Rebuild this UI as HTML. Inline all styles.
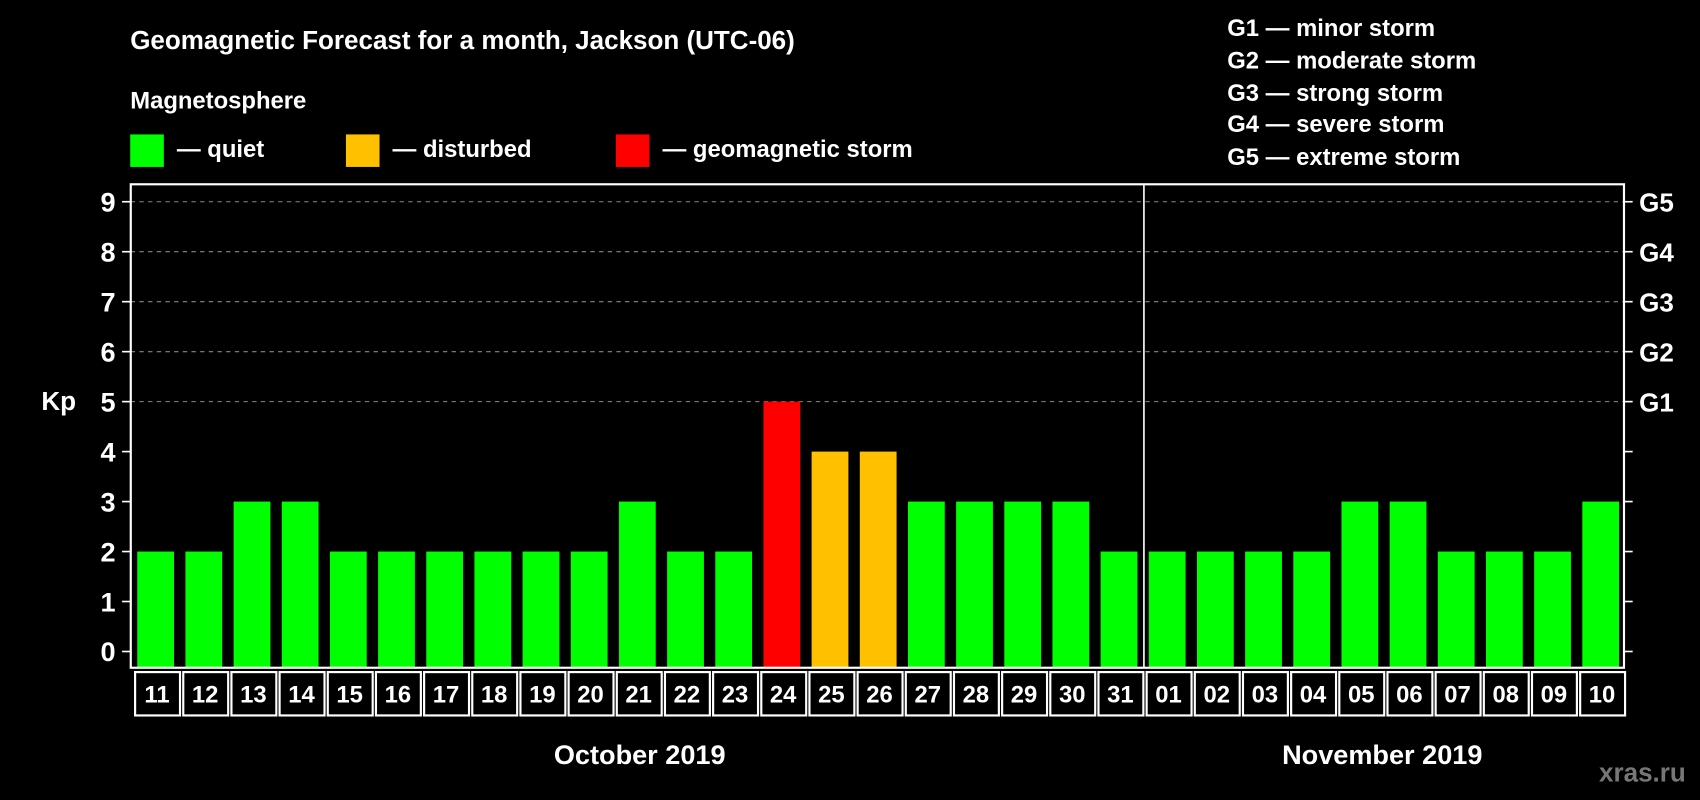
<!DOCTYPE html>
<html><head><meta charset="utf-8"><style>
html,body{margin:0;padding:0;background:#000;width:1700px;height:800px;overflow:hidden}
svg{display:block}
text{font-family:"Liberation Sans",sans-serif;font-weight:bold;fill:#fff}
</style></head><body>
<svg id="chart" width="1700" height="800" viewBox="0 0 1568 738" xmlns="http://www.w3.org/2000/svg">
<rect width="1568" height="738" fill="#000"/>
<text x="120" y="45" font-size="24">Geomagnetic Forecast for a month, Jackson (UTC-06)</text>
<text x="120" y="100" font-size="22">Magnetosphere</text>
<g><rect x="120" y="124" width="31" height="30" fill="#00ff00"/><text x="163" y="145" font-size="22">— quiet</text></g>
<g><rect x="319" y="124" width="31" height="30" fill="#ffc000"/><text x="362" y="145" font-size="22">— disturbed</text></g>
<g><rect x="568" y="124" width="31" height="30" fill="#ff0000"/><text x="611" y="145" font-size="22">— geomagnetic storm</text></g>
<g font-size="22">
<text x="1132" y="33">G1 — minor storm</text>
<text x="1132" y="63">G2 — moderate storm</text>
<text x="1132" y="93">G3 — strong storm</text>
<text x="1132" y="122">G4 — severe storm</text>
<text x="1132" y="152">G5 — extreme storm</text>
</g>
<text x="38" y="378" font-size="24">Kp</text>
<g id="grid"></g><g id="bars"></g><g id="axes"></g><g id="days"></g>
<text x="590" y="705" font-size="25" text-anchor="middle">October 2019</text>
<text x="1275" y="705" font-size="25" text-anchor="middle">November 2019</text>
<text x="1515" y="721" font-size="24" text-anchor="middle" style="fill:#777">xras.ru</text>
</svg>
<script>
const days=["11","12","13","14","15","16","17","18","19","20","21","22","23","24","25","26","27","28","29","30","31","01","02","03","04","05","06","07","08","09","10"];
const kpValues=[2,2,3,3,2,2,2,2,2,2,3,2,2,5,4,4,3,3,3,3,2,2,2,2,2,3,3,2,2,2,3];
const yTicks=[0,1,2,3,4,5,6,7,8,9];
const gLabels=["G1","G2","G3","G4","G5"];
const NS="http://www.w3.org/2000/svg";
const X0=120.5,X1=1498,TOP=170,BOT=616,step=(X1-X0)/days.length;
function y(v){return 601-v*46.1;}
function x(i){return X0+i*step;}
function mk(tag,attrs,parent){const e=document.createElementNS(NS,tag);for(const k in attrs)e.setAttribute(k,attrs[k]);parent.appendChild(e);return e;}
function color(v){return v>=5?"#ff0000":v>=4?"#ffc000":"#00ff00";}
const grid=document.getElementById('grid'),bars=document.getElementById('bars'),axes=document.getElementById('axes'),dg=document.getElementById('days');
yTicks.forEach(t=>{
  if(t>=5){const l=mk('line',{x1:X0,x2:X1,y1:y(t),y2:y(t),stroke:'#888','stroke-dasharray':'4 4','stroke-width':1},grid);
  
  }
  const tl=mk('line',{x1:X0-8,x2:X0,y1:y(t),y2:y(t),stroke:'#fff','stroke-width':1.5},axes);
  
  
  const tr=mk('line',{x1:X1,x2:X1+8,y1:y(t),y2:y(t),stroke:'#fff','stroke-width':1.5},axes);
  
  
  const tx=mk('text',{x:X0-14,y:y(t)+9,'font-size':25,'text-anchor':'end'},axes);tx.textContent=t;
  
  
});
gLabels.forEach((g,i)=>{const t=mk('text',{x:X1+14,y:y(5+i)+9,'font-size':24},axes);t.textContent=g;
  
  });
kpValues.forEach((v,i)=>{
  const r=mk('rect',{x:x(i)+6,y:y(v),width:step-10.5,height:BOT-y(v),fill:color(v)},bars);
  
  
  const c=mk('rect',{x:x(i)+4,y:620,width:step-3,height:40,fill:'none',stroke:'#fff','stroke-width':2},dg);
  
  
  const t=mk('text',{x:x(i)+step/2+2,y:648,'font-size':22,'text-anchor':'middle'},dg);t.textContent=days[i];
  
  
});
const fr=mk('rect',{x:X0,y:TOP,width:X1-X0,height:BOT-TOP,fill:'none',stroke:'#fff','stroke-width':2},axes);


const dv=mk('line',{x1:x(21)+1.5,x2:x(21)+1.5,y1:TOP,y2:BOT,stroke:'#fff','stroke-width':1.5},axes);


</script>
</body></html>
